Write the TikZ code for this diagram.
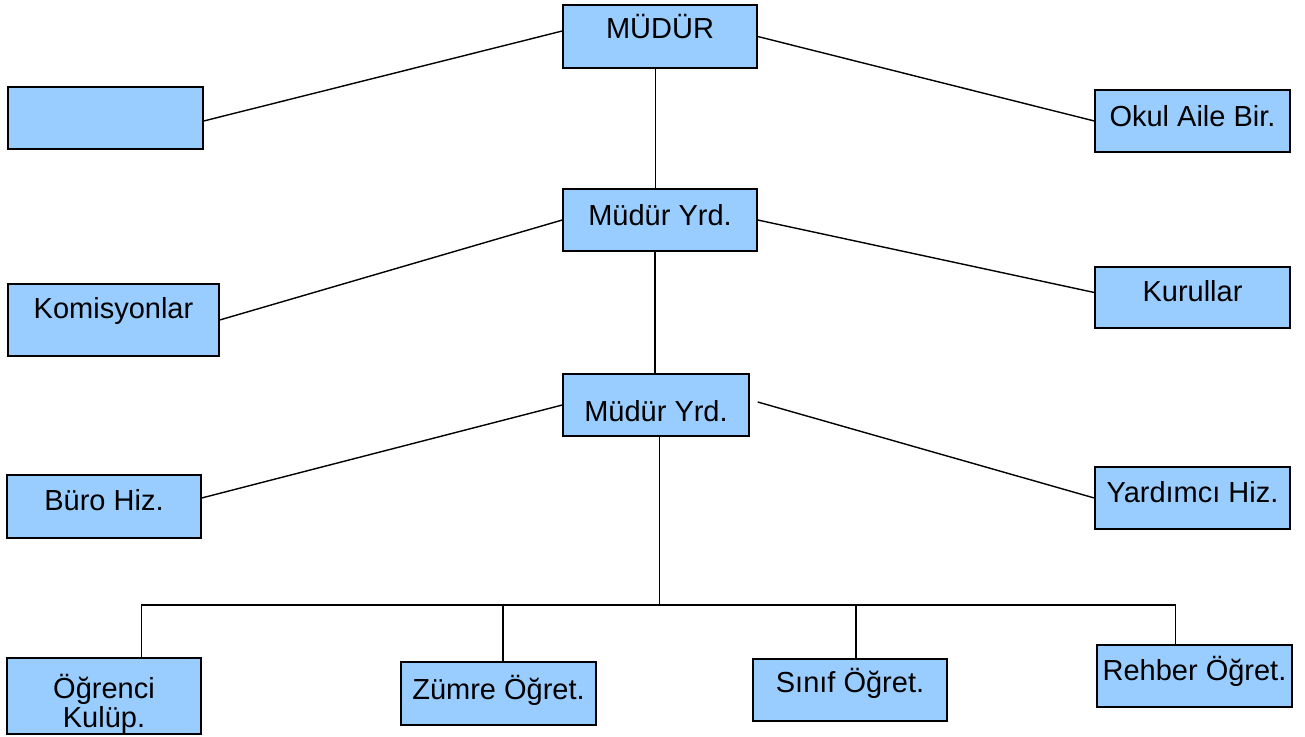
\documentclass[tikz,border=0pt]{standalone}
\usepackage{fontspec}
\setmainfont{Liberation Sans}
\definecolor{kutu}{HTML}{99CCFF}
\tikzset{
  birim/.style={draw=black, fill=kutu, line width=0.8pt, inner sep=0pt,
    minimum width=3.88cm, minimum height=1.24cm, align=center,
    font=\fontsize{16.5}{17}\selectfont},
  tek/.style={text height=0.42cm, text depth=#1},
  tek/.default=0.24cm,
  hat/.style={line width=0.8pt}
}
\begin{document}
\begin{tikzpicture}
  \useasboundingbox (0,0) rectangle (26.1,14.72);
  \node[birim,tek=0.32cm,minimum height=1.26cm] (mudur) at (13.2,13.99) {MÜDÜR};
  \node[birim,minimum width=3.9cm] (bos) at (2.11,12.36) {};
  \node[birim,tek=0.2cm,minimum width=3.9cm] (okul) at (23.85,12.3) {Okul Aile Bir.};
  \node[birim,tek=0.2cm] (yrd1) at (13.2,10.32) {Müdür Yrd.};
  \node[birim,tek=0.48cm,minimum width=4.22cm,minimum height=1.44cm] (komisyon) at (2.27,8.32) {Komisyonlar};
  \node[birim,tek,minimum width=3.9cm,minimum height=1.22cm] (kurullar) at (23.85,8.77) {Kurullar};
  \node[birim,text height=0.66cm,text depth=0cm,minimum width=3.72cm] (yrd2) at (13.12,6.62) {Müdür Yrd.};
  \node[birim,tek,minimum height=1.26cm] (buro) at (2.08,4.59) {Büro Hiz.};
  \node[birim,tek,minimum width=3.9cm] (yardimci) at (23.85,4.76) {Yardımcı Hiz.};
  \node[birim,minimum height=1.48cm] (ogrenci) at (2.08,0.8) {\rule{0pt}{0.8cm}Öğrenci\\Kulüp.};
  \node[birim,tek=0.2cm,minimum width=3.9cm,minimum height=1.26cm] (zumre) at (9.97,0.85) {Zümre Öğret.};
  \node[birim,tek=0.32cm] (sinif) at (17.0,0.92) {Sınıf Öğret.};
  \node[birim,tek,minimum width=3.9cm] (rehber) at (23.89,1.2) {Rehber Öğret.};
  \coordinate (bus) at (13.19,2.62);

  \draw[hat] ([yshift=0.11cm]mudur.west) -- ([yshift=-0.06cm]bos.east);
  \draw[hat] (mudur.east) -- (okul.west);
  \draw[hat] ([xshift=-0.09cm]mudur.south) -- ([xshift=-0.09cm]yrd1.north);
  \draw[hat] (yrd1.west) -- (komisyon.east);
  \draw[hat] (yrd1.east) -- ([yshift=0.1cm]kurullar.west);
  \draw[hat] ([xshift=-0.1cm]yrd1.south) -- ([xshift=-0.02cm]yrd2.north);
  \draw[hat] (yrd2.west) -- ([yshift=0.17cm]buro.east);
  \draw[hat] ([shift={(0.16cm,0.06cm)}]yrd2.east) -- (yardimci.west);
  \draw[hat] ([xshift=0.07cm]yrd2.south) -- (bus);
  \draw[hat] ([xshift=0.75cm]ogrenci.north) |- (bus) -| ([xshift=-0.38cm]rehber.north);
  \draw[hat] ([xshift=0.09cm]zumre.north) -- ([xshift=0.09cm]zumre.north |- bus);
  \draw[hat] ([xshift=0.12cm]sinif.north) -- ([xshift=0.12cm]sinif.north |- bus);
\end{tikzpicture}
\end{document}
